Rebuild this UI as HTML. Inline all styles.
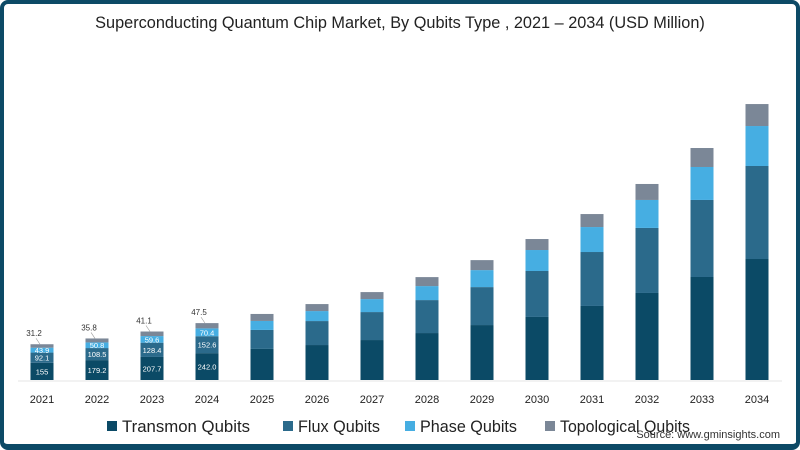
<!DOCTYPE html>
<html><head><meta charset="utf-8"><style>
html,body{margin:0;padding:0;background:#fff;}
#frame{position:absolute;left:0;top:0;width:800px;height:450px;box-sizing:border-box;border:4px solid #0d4a66;border-bottom-width:6px;border-radius:8px;background:#fff;overflow:hidden;}
svg{position:absolute;left:0;top:0;}
text{font-family:"Liberation Sans",sans-serif;}
</style></head><body>
<div id="frame"></div>
<svg id="chart" width="800" height="450">
<text x="400" y="28" text-anchor="middle" font-size="16.3" fill="#222">Superconducting Quantum Chip Market, By Qubits Type , 2021 – 2034 (USD Million)</text>
<line x1="18" y1="381" x2="782" y2="381" stroke="#e6e6e6" stroke-width="1"/>
<text x="780" y="438" text-anchor="end" font-size="11" fill="#333">Source: www.gminsights.com</text>
</svg>
<script>
const years=["2021","2022","2023","2024","2025","2026","2027","2028","2029","2030","2031","2032","2033","2034"];
const transmon=[155,179.2,207.7,242.0,280,315,360,423,495,568,667,784,928,1090];
const flux=[92.1,108.5,128.4,152.6,171,216,252,297,342,414,486,586,694,838];
const phase=[43.9,50.8,59.6,70.4,81,90,117,126,153,189,225,252,297,360];
const topo=[31.2,35.8,41.1,47.5,63,63,63,81,90,99,117,144,171,198];
const labeledCount=4;
const seriesNames=["Transmon Qubits","Flux Qubits","Phase Qubits","Topological Qubits"];
const colors=["#0b4a66","#2b6a8b","#46aee2","#7b8797"];
const svg=document.getElementById('chart');
const NS="http://www.w3.org/2000/svg";
const base=380, k=0.111, x0=42, step=55, bw=23;
function xs(i){return x0+i*step;}
function ys(v){return v*k;}
const series=[transmon,flux,phase,topo];
const snames=["transmon","flux","phase","topological"];
function mk(tag,attrs){const e=document.createElementNS(NS,tag);for(const a in attrs)e.setAttribute(a,attrs[a]);svg.appendChild(e);return e;}
years.forEach((yr,i)=>{
  let acc=0;
  series.forEach((s,j)=>{
    const h=ys(s[i]);const y=base-ys(acc)-h;
    const r=mk('rect',{x:xs(i)-bw/2,y:y,width:bw,height:h,fill:colors[j]});
    
    
    if(i<labeledCount&&j<3){
      const t=mk('text',{x:xs(i),y:y+h/2+3,'text-anchor':'middle','font-size':'7.5',fill:'#fff'});
      t.textContent=(j===0&&i===0)?String(s[i]):s[i].toFixed(1);
      
      
    }
    if(i<labeledCount&&j===3){
      const t=mk('text',{x:xs(i)-8,y:y-8,'text-anchor':'middle','font-size':'8',fill:'#333'});
      t.textContent=s[i].toFixed(1);
      
      
      const l=mk('line',{x1:xs(i)-6,y1:y-6,x2:xs(i)-2,y2:y,stroke:'#999','stroke-width':'0.6'});
      
      
    }
    acc+=s[i];
  });
  const t=mk('text',{x:xs(i),y:403,'text-anchor':'middle','font-size':'11',fill:'#222'});
  t.textContent=yr;
  
  
});
const legX=[107,283,405,545];
const legW=[128,82,97,130];
seriesNames.forEach((n,j)=>{
  const r=mk('rect',{x:legX[j],y:421,width:10,height:10,fill:colors[j]});
  
  
  const t=mk('text',{x:legX[j]+15,y:432,'font-size':'17',fill:'#222',textLength:legW[j],lengthAdjust:'spacingAndGlyphs'});
  t.textContent=n;
  
  
});
</script>
</body></html>
